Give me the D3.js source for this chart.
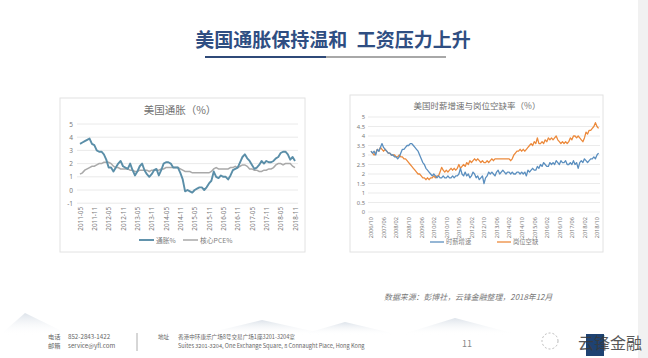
<!DOCTYPE html>
<html><head><meta charset="utf-8">
<script src="https://cdn.jsdelivr.net/npm/d3@7"></script>
<style>
body{margin:0;background:#fff;}
svg{display:block;font-family:"Noto Sans CJK SC","Noto Sans",sans-serif;}
</style></head><body>
<svg id="c" width="648" height="358"></svg>
<script>
// ---------- DATA ----------
const cpiTickLabels = ["2011-05","2011-11","2012-05","2012-11","2013-05","2013-11","2014-05","2014-11","2015-05","2015-11","2016-05","2016-11","2017-05","2017-11","2018-05","2018-11"];
const cpiSeries = [3.5,3.6,3.7,3.8,3.9,3.5,3.4,3.0,
2.9,2.9,2.7,2.3,1.7,1.7,1.4,1.7,2.0,2.2,1.8,1.7,
1.6,2.0,1.5,1.1,1.4,1.8,2.0,1.5,1.2,1.0,1.2,1.5,
1.6,1.1,1.5,2.0,2.1,2.1,2.0,1.7,1.7,1.7,1.3,0.8,
-0.1,0.0,-0.1,-0.2,0.0,0.1,0.2,0.2,0.0,0.2,0.5,0.7,
1.4,1.0,0.9,1.1,1.0,1.0,0.8,1.1,1.5,1.6,1.7,2.1,
2.5,2.7,2.4,2.2,1.9,1.6,1.7,1.9,2.2,2.0,2.2,2.1,
2.1,2.2,2.4,2.5,2.8,2.9,2.9,2.7,2.3,2.5,2.2];
const corePceSeries = [1.2,1.3,1.5,1.6,1.7,1.8,1.8,1.9,
2.0,2.0,2.1,2.1,2.1,2.0,1.8,1.7,1.7,1.6,1.6,1.6,
1.6,1.5,1.5,1.4,1.4,1.5,1.5,1.5,1.5,1.4,1.5,1.5,
1.5,1.5,1.6,1.6,1.7,1.7,1.7,1.7,1.7,1.7,1.6,1.5,
1.4,1.4,1.4,1.3,1.3,1.3,1.3,1.3,1.3,1.3,1.3,1.4,
1.6,1.7,1.6,1.6,1.6,1.6,1.6,1.7,1.7,1.8,1.7,1.8,
1.9,1.9,1.8,1.6,1.6,1.5,1.5,1.4,1.4,1.5,1.5,1.6,
1.6,1.7,1.9,2.0,2.0,1.9,2.0,2.0,2.0,1.8,1.7];
const cpiYTicks = [-1,0,1,2,3,4,5];

const wageTickLabels = ["2006/10","2007/06","2008/02","2008/10","2009/06","2010/02","2010/10","2011/06","2012/02","2012/10","2013/06","2014/02","2014/10","2015/06","2016/02","2016/10","2017/06","2018/02","2018/10"];
const wageSeries = [3.2,3.1,3.2,3.0,3.3,3.2,3.4,3.6,3.4,3.3,3.2,3.1,
3.1,3.0,3.0,2.9,2.9,2.8,2.9,3.1,3.3,3.3,3.4,3.5,
3.5,3.6,3.6,3.5,3.4,3.3,3.2,3.0,2.8,2.6,2.5,2.3,
2.2,2.1,2.0,1.9,2.0,1.9,1.8,1.9,1.8,1.8,1.9,1.8,
1.8,1.9,1.8,1.8,1.9,1.8,1.9,1.9,2.0,2.3,2.0,1.9,
2.1,1.9,2.0,1.8,1.9,2.1,2.0,1.8,1.9,1.7,1.8,1.9,
1.5,1.8,1.9,2.1,2.0,2.1,2.0,1.9,2.1,2.2,2.0,2.1,
2.2,2.1,2.0,2.1,2.1,2.0,2.1,2.0,2.0,2.1,2.1,2.0,
2.1,2.0,2.1,1.9,2.2,2.1,2.2,2.3,2.2,2.2,2.4,2.3,
2.5,2.4,2.6,2.5,2.4,2.4,2.6,2.5,2.6,2.5,2.7,2.6,
2.5,2.7,2.6,2.6,2.7,2.5,2.5,2.6,2.5,2.7,2.5,2.6,
2.3,2.6,2.7,2.6,2.8,2.7,2.6,2.7,2.8,2.8,2.9,2.8,
3.0,3.1];
const openingsSeries = [3.2,3.1,3.0,3.1,3.3,3.2,3.4,3.3,3.2,3.3,3.2,3.1,
3.1,3.0,3.0,3.0,2.9,2.9,3.0,2.9,2.9,2.8,2.8,2.7,
2.6,2.5,2.4,2.3,2.2,2.1,2.0,2.0,1.9,1.8,1.8,1.7,
1.8,1.7,1.8,1.8,1.9,1.8,1.9,1.9,2.1,2.35,2.2,2.1,
2.2,2.1,2.2,2.3,2.2,2.3,2.2,2.3,2.5,2.3,2.4,2.5,
2.4,2.6,2.5,2.7,2.6,2.7,2.8,2.7,2.8,2.7,2.6,2.7,
2.6,2.6,2.7,2.6,2.7,2.8,2.7,2.8,2.8,2.8,2.8,2.8,
2.8,2.8,2.8,2.8,2.8,2.7,2.8,3.0,3.1,3.2,3.2,3.3,
3.2,3.3,3.2,3.3,3.4,3.5,3.6,3.5,3.7,3.6,3.9,3.6,
3.6,3.7,3.6,3.8,3.7,3.9,3.8,3.9,3.8,3.9,4.0,3.8,
3.7,3.6,3.7,3.6,3.7,3.6,3.7,3.9,3.8,4.0,4.0,3.9,
4.0,3.9,3.8,3.7,3.9,4.2,4.1,4.3,4.3,4.4,4.5,4.7,
4.5,4.4];
const wageYTicks = [0,0.5,1,1.5,2,2.5,3,3.5,4,4.5,5];

const pageTitle = "美国通胀保持温和\u2002工资压力上升";
const leftTitle = "美国通胀（%）";
const rightTitle = "美国时薪增速与岗位空缺率（%）";
const leftLegend = ["通胀%","核心PCE%"];
const rightLegend = ["时薪增速","岗位空缺"];
const sourceText = "数据来源：彭博社，云锋金融整理，2018年12月";

// ---------- DRAW ----------
const svg = d3.select("#c");
const defs = svg.append("defs");
const g1 = defs.append("linearGradient").attr("id","mt").attr("x1",0).attr("y1",0).attr("x2",0).attr("y2",1);
g1.append("stop").attr("offset","0").attr("stop-color","#dde3ea");
g1.append("stop").attr("offset","1").attr("stop-color","#ffffff").attr("stop-opacity",0);

const mountains = [[[0,335],[25,313],[70,335]],[[200,335],[262,320],[330,335]],[[300,335],[345,322],[400,335]],[[400,335],[455,318],[520,335]]];
svg.selectAll("path.mt").data(mountains).join("path").attr("class","mt")
  .attr("d", d=>d3.line()(d)+"Z").attr("fill","url(#mt)");

svg.append("rect").attr("x",638).attr("y",0).attr("width",10).attr("height",358).attr("fill","#f1f1f1");

svg.append("text").attr("x",333).attr("y",47).attr("text-anchor","middle")
  .attr("font-size",19).attr("font-weight",700).attr("fill","#2f4e82").text(pageTitle);
svg.append("line").attr("x1",205).attr("x2",326).attr("y1",57).attr("y2",57).attr("stroke","#2f4a78").attr("stroke-width",2);
svg.append("line").attr("x1",326).attr("x2",446).attr("y1",57).attr("y2",57).attr("stroke","#a8a8a8").attr("stroke-width",2);

function panel(x,y,w,h){
  svg.append("rect").attr("x",x).attr("y",y).attr("width",w).attr("height",h)
    .attr("fill","#fff").attr("stroke","#e2e2e2").attr("stroke-width",1);
}

// ---- Left chart ----
panel(60,98,245,154);
{
  const x = d3.scaleLinear().domain([0, cpiSeries.length-1]).range([80,295]);
  const y = d3.scaleLinear().domain([-1,5]).range([203.2,124]);
  const gg = svg.append("g");
  gg.selectAll("line.grid").data(cpiYTicks).join("line")
    .attr("x1",77).attr("x2",298).attr("y1",d=>y(d)).attr("y2",d=>y(d))
    .attr("stroke","#e4e4e4").attr("stroke-width",0.8);
  const ya = d3.axisLeft(y).tickValues(cpiYTicks).tickFormat(d=>String(d)).tickSize(0).tickPadding(0);
  const yg = gg.append("g").attr("transform","translate(73,0)").call(ya);
  yg.select(".domain").remove();
  yg.selectAll("text").attr("font-size",6.5).attr("fill","#7a7a7a").attr("font-family","Noto Sans, sans-serif");
  const tickIdx = cpiTickLabels.map((d,i)=>i*6);
  const xa = d3.axisBottom(x).tickValues(tickIdx).tickFormat((d,i)=>cpiTickLabels[i]).tickSize(0);
  const xg = gg.append("g").attr("transform","translate(0,207)").call(xa);
  xg.select(".domain").remove();
  xg.selectAll("text").attr("font-size",6.3).attr("fill","#7a7a7a").attr("font-family","Noto Sans, sans-serif")
    .attr("transform","rotate(-90)").attr("text-anchor","end").attr("dy","0.32em").attr("y",0).attr("x",0);
  const line = d3.line().x((d,i)=>x(i)).y(d=>y(d));
  gg.append("path").datum(corePceSeries).attr("d",line).attr("fill","none").attr("stroke","#a9a9a9").attr("stroke-width",1.5);
  gg.append("path").datum(cpiSeries).attr("d",line).attr("fill","none").attr("stroke","#5a8ea8").attr("stroke-width",1.9).attr("stroke-linejoin","round");
  svg.append("text").attr("x",180).attr("y",114).attr("text-anchor","middle").attr("font-size",10.5).attr("fill","#707070").text(leftTitle);
  const lg = [{x:139,c:"#5a8ea8",w:1.9,t:leftLegend[0]},{x:183,c:"#a9a9a9",w:1.5,t:leftLegend[1]}];
  lg.forEach(l=>{
    svg.append("line").attr("x1",l.x).attr("x2",l.x+15).attr("y1",240).attr("y2",240).attr("stroke",l.c).attr("stroke-width",l.w);
    svg.append("text").attr("x",l.x+17).attr("y",242.5).attr("font-size",6.8).attr("fill","#808080").text(l.t);
  });
}

// ---- Right chart ----
panel(350,95,253,157);
{
  const x = d3.scaleLinear().domain([0,144]).range([371,597]);
  const y = d3.scaleLinear().domain([0,5]).range([212,117]);
  const gg = svg.append("g");
  gg.selectAll("line.grid").data(wageYTicks).join("line")
    .attr("x1",368).attr("x2",600).attr("y1",d=>y(d)).attr("y2",d=>y(d))
    .attr("stroke","#e6e6e6").attr("stroke-width",0.8);
  const ya = d3.axisLeft(y).tickValues(wageYTicks).tickFormat(d=>String(d)).tickSize(0).tickPadding(0);
  const yg = gg.append("g").attr("transform","translate(365,0)").call(ya);
  yg.select(".domain").remove();
  yg.selectAll("text").attr("font-size",5.8).attr("fill","#7a7a7a").attr("font-family","Noto Sans, sans-serif");
  const tickIdx = wageTickLabels.map((d,i)=>i*8);
  const xa = d3.axisBottom(x).tickValues(tickIdx).tickFormat((d,i)=>wageTickLabels[i]).tickSize(0);
  const xg = gg.append("g").attr("transform","translate(0,217)").call(xa);
  xg.select(".domain").remove();
  xg.selectAll("text").attr("font-size",5.6).attr("fill","#7a7a7a").attr("font-family","Noto Sans, sans-serif")
    .attr("transform","rotate(-90)").attr("text-anchor","end").attr("dy","0.32em").attr("y",0).attr("x",0);
  const line = d3.line().x((d,i)=>x(i)).y(d=>y(d));
  gg.append("path").datum(openingsSeries).attr("d",line).attr("fill","none").attr("stroke","#ec8a3c").attr("stroke-width",1.3).attr("stroke-linejoin","round");
  gg.append("path").datum(wageSeries).attr("d",line).attr("fill","none").attr("stroke","#5b8fbf").attr("stroke-width",1.3).attr("stroke-linejoin","round");
  svg.append("text").attr("x",477).attr("y",109).attr("text-anchor","middle").attr("font-size",8.5).attr("fill","#707070").text(rightTitle);
  const lg = [{x:430,c:"#5b8fbf",t:rightLegend[0]},{x:497,c:"#ec8a3c",t:rightLegend[1]}];
  lg.forEach(l=>{
    svg.append("line").attr("x1",l.x).attr("x2",l.x+14).attr("y1",242).attr("y2",242).attr("stroke",l.c).attr("stroke-width",1.3);
    svg.append("text").attr("x",l.x+16).attr("y",244.3).attr("font-size",6.3).attr("fill","#808080").text(l.t);
  });
}

svg.append("text").attr("x",384).attr("y",300).attr("font-size",7.9).attr("font-style","italic").attr("fill","#777").text(sourceText);

const ft = svg.append("g").attr("font-size",6.2).attr("fill","#666");
ft.append("text").attr("x",48).attr("y",339).text("电话");
ft.append("text").attr("x",68).attr("y",339).text("852-2843-1422");
ft.append("text").attr("x",48).attr("y",348).text("邮箱");
ft.append("text").attr("x",68).attr("y",348).text("service@yfl.com");
svg.append("line").attr("x1",137).attr("x2",137).attr("y1",333).attr("y2",351).attr("stroke","#999").attr("stroke-width",0.8);
const ft2 = svg.append("g").attr("font-size",5.6).attr("fill","#666");
ft2.append("text").attr("x",158).attr("y",339).text("地址");
ft2.append("text").attr("x",178).attr("y",339).text("香港中环康乐广场8号交易广场1座3201-3204室");
ft2.append("text").attr("x",178).attr("y",348).text("Suites 3201-3204, One Exchange Square, 8 Connaught Place, Hong Kong");
svg.append("text").attr("x",467).attr("y",347).attr("text-anchor","middle").attr("font-size",9).attr("fill","#888").text("11");

svg.append("circle").attr("cx",550).attr("cy",341).attr("r",8).attr("fill","none").attr("stroke","#bbb").attr("stroke-width",1).attr("stroke-dasharray","2,2");
svg.append("rect").attr("x",586).attr("y",334).attr("width",18).attr("height",22).attr("fill","#1e4272");
svg.append("text").attr("x",578).attr("y",349).attr("font-size",16).attr("fill","#3a3a3a").attr("opacity",0.85).text("云锋金融");
</script></body></html>
